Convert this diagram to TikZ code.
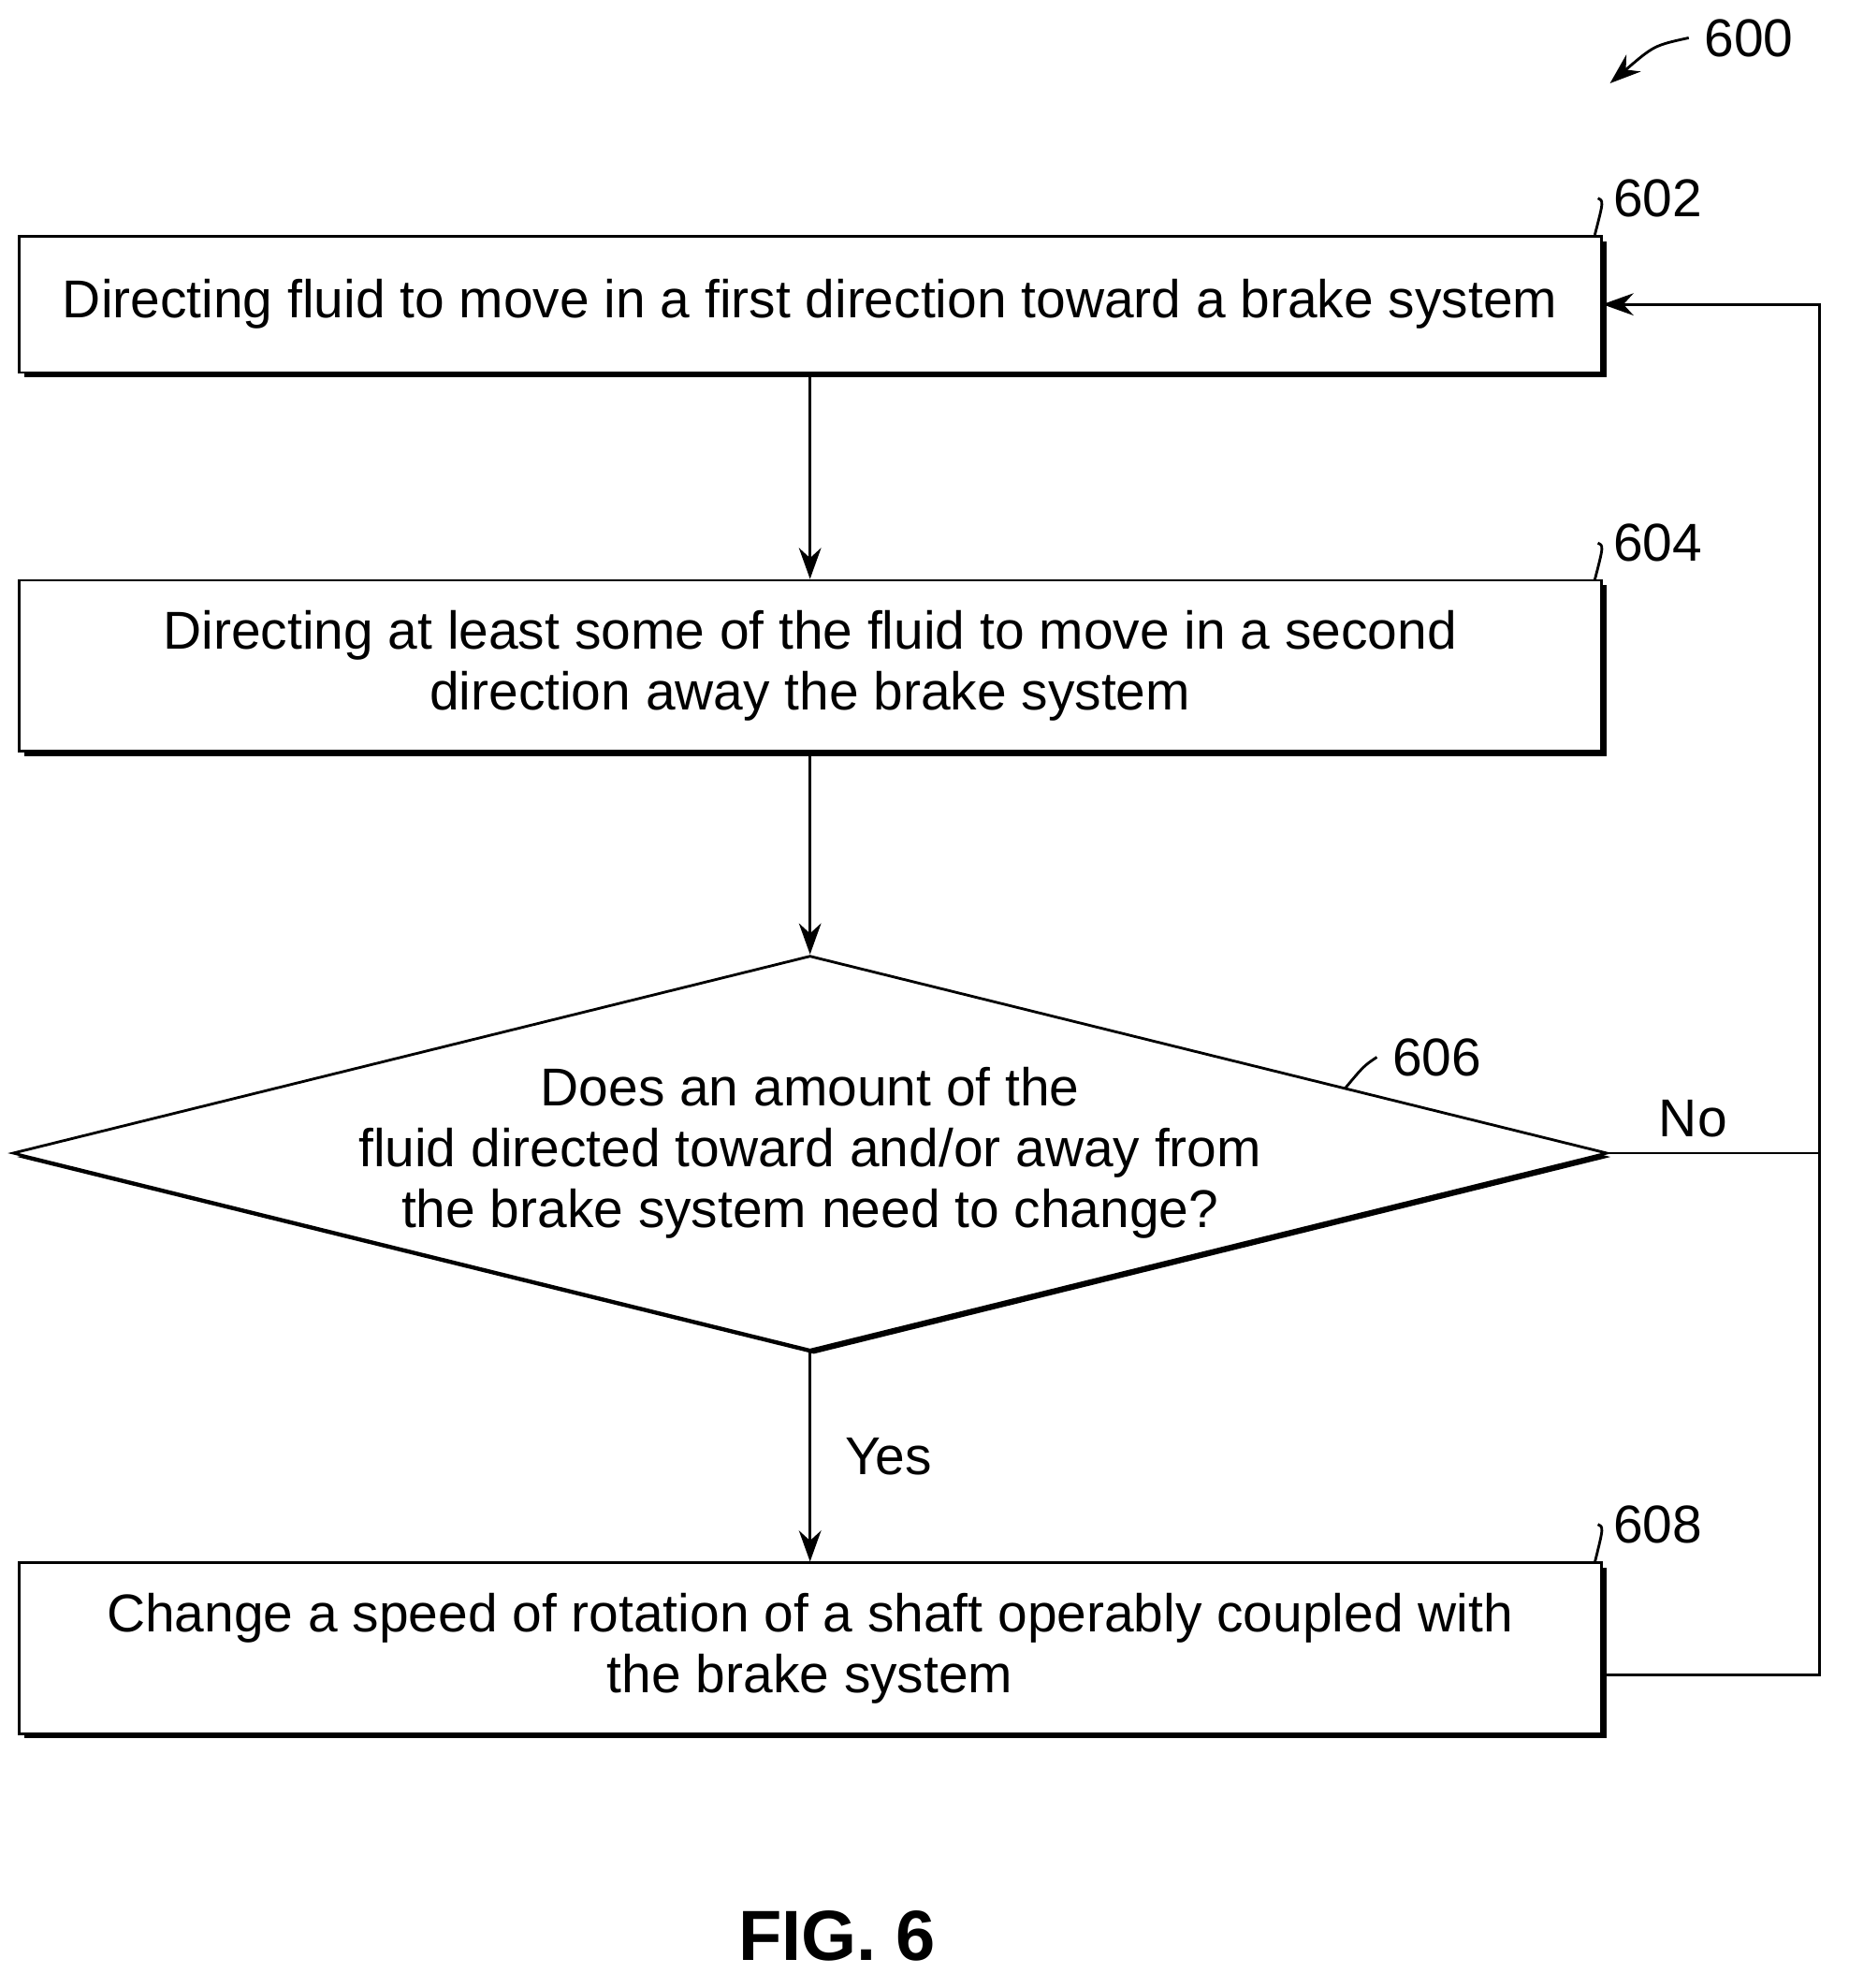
\documentclass[tikz,border=0pt]{standalone}
\usepackage{fontspec}
\setmainfont{Liberation Sans}
\usetikzlibrary{positioning, shapes.geometric, arrows.meta, shadows}
\tikzset{
    procbox/.style={ % process boxes
        draw, semithick, fill=white,
        minimum width=12.53cm, align=center,
        font=\fontsize{12}{13.7}\selectfont,
        drop shadow={shadow xshift=0.04cm, shadow yshift=-0.04cm, fill=black, opacity=1}
    },
    test/.style={ % decision
        draw, semithick, fill=white, diamond, aspect=4.04,
        minimum width=12.53cm, minimum height=3.1cm, inner sep=0pt,
        align=center, font=\fontsize{12}{13.7}\selectfont,
        drop shadow={shadow xshift=0.03cm, shadow yshift=-0.03cm, fill=black, opacity=1}
    },
    flow/.style={draw, semithick, -{Stealth[length=7pt,width=5pt]}},
    ref/.style={font=\fontsize{12}{14}\selectfont},
    lead/.style={draw, semithick},
}
\begin{document}
\begin{tikzpicture}
    \useasboundingbox (0,0) rectangle (14.64,15.74);
    \node[procbox, minimum height=1.08cm] (s602) at (6.415,13.33) {Directing fluid to move in a first direction toward a brake system};
    \node[procbox, minimum height=1.35cm] (s604) at (6.415,10.47) {Directing at least some of the fluid to move in a second\\direction away the brake system};
    \node[test] (s606) at (6.415,6.61) {Does an amount of the\\fluid directed toward and/or away from\\the brake system need to change?};
    \node[procbox, minimum height=1.35cm] (s608) at (6.415,2.69) {Change a speed of rotation of a shaft operably coupled with\\the brake system};
    \coordinate (c1) at (14.41,6.61);
    \coordinate (c2) at (14.41,2.48);
    \coordinate (c3) at (14.41,13.33);

    \draw[flow] (s602) -- (s604);
    \draw[flow] (s604) -- (s606);
    \draw[flow] (s606) -- node[right=0.15cm, ref] {Yes} (s608);
    \draw[semithick] (s606.east) -- node[above, ref, pos=0.4] {No} (c1);
    \draw[flow] (s608.east |- c2) -- (c2) -- (c3) -- (s602.east);

    % reference numerals
    \node[ref] (n600) at (13.85,15.44) {600};
    \node[ref] (n602) at (13.13,14.17) {602};
    \node[ref] (n604) at (13.13,11.44) {604};
    \node[ref] (n606) at (11.38,7.37) {606};
    \node[ref] (n608) at (13.13,3.67) {608};
    \draw[semithick, -{Stealth[length=7pt,width=5pt]}] (n600.west) .. controls (13.1,15.38) .. (12.75,15.08);
    \draw[lead] (n602.west) .. controls (12.7,14.15) .. (12.63,13.88);
    \draw[lead] (n604.west) .. controls (12.7,11.42) .. (12.63,11.15);
    \draw[lead] (n606.west) .. controls (10.8,7.3) .. (10.65,7.12);
    \draw[lead] (n608.west) .. controls (12.7,3.65) .. (12.63,3.37);

    \node[font=\bfseries\fontsize{16}{18}\selectfont] (fig) at (6.63,0.41) {FIG. 6};
\end{tikzpicture}
\end{document}
